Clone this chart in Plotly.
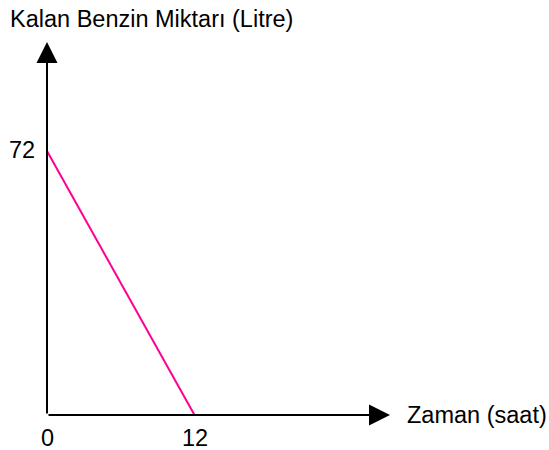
import plotly.graph_objects as go

# Data
time_h = [0, 12]
fuel_l = [72, 0]
x_ticks = [0, 12]
y_ticks = [72]
x_title = "Zaman (saat)"
y_title = "Kalan Benzin Miktarı (Litre)"

W, H = 549, 450
x0_px, x12_px = 47, 194.5
y0_px, y72_px = 415, 151
sx = (x12_px - x0_px) / 12.0
sy = (y0_px - y72_px) / 72.0
x_range = [-x0_px / sx, (W - x0_px) / sx]
y_range = [-(H - y0_px) / sy, y0_px / sy]

x_axis_end = (390 - x0_px) / sx
y_axis_end = (y0_px - 42) / sy

font = dict(family="Arial, Liberation Sans, sans-serif", size=23.5, color="black")

fig = go.Figure()
fig.add_trace(go.Scatter(x=time_h, y=fuel_l, mode="lines",
                         line=dict(color="#FF0090", width=2), hoverinfo="skip"))

annotations = []
# axes with arrows
annotations.append(dict(x=x_axis_end, y=0, ax=0, ay=0, xref="x", yref="y",
                        axref="x", ayref="y", showarrow=True, arrowhead=2,
                        arrowsize=2.1, arrowwidth=2, arrowcolor="black", text=""))
annotations.append(dict(x=0, y=y_axis_end, ax=0, ay=0, xref="x", yref="y",
                        axref="x", ayref="y", showarrow=True, arrowhead=2,
                        arrowsize=2.1, arrowwidth=2, arrowcolor="black", text=""))
# tick labels
for t in x_ticks:
    annotations.append(dict(x=t, y=0, xref="x", yref="y", text=str(t), showarrow=False,
                            yshift=-23, font=font))
for t in y_ticks:
    annotations.append(dict(x=0, y=t, xref="x", yref="y", text=str(t), showarrow=False,
                            xanchor="right", xshift=-10, yshift=1, font=font))
annotations.append(dict(x=(405 - x0_px) / sx, y=0, xref="x", yref="y", text=x_title,
                        showarrow=False, xanchor="left", font=font))
annotations.append(dict(x=(8 - x0_px) / sx, y=(y0_px - 19) / sy, xref="x", yref="y",
                        text=y_title, showarrow=False, xanchor="left", font=font))

fig.update_layout(
    width=W, height=H, margin=dict(l=0, r=0, t=0, b=0),
    paper_bgcolor="white", plot_bgcolor="white", showlegend=False,
    xaxis=dict(range=x_range, visible=False, fixedrange=True),
    yaxis=dict(range=y_range, visible=False, fixedrange=True),
    annotations=annotations,
)
fig.write_html("out.html", config={"displayModeBar": False},
               post_script="document.body.style.margin='0';")
